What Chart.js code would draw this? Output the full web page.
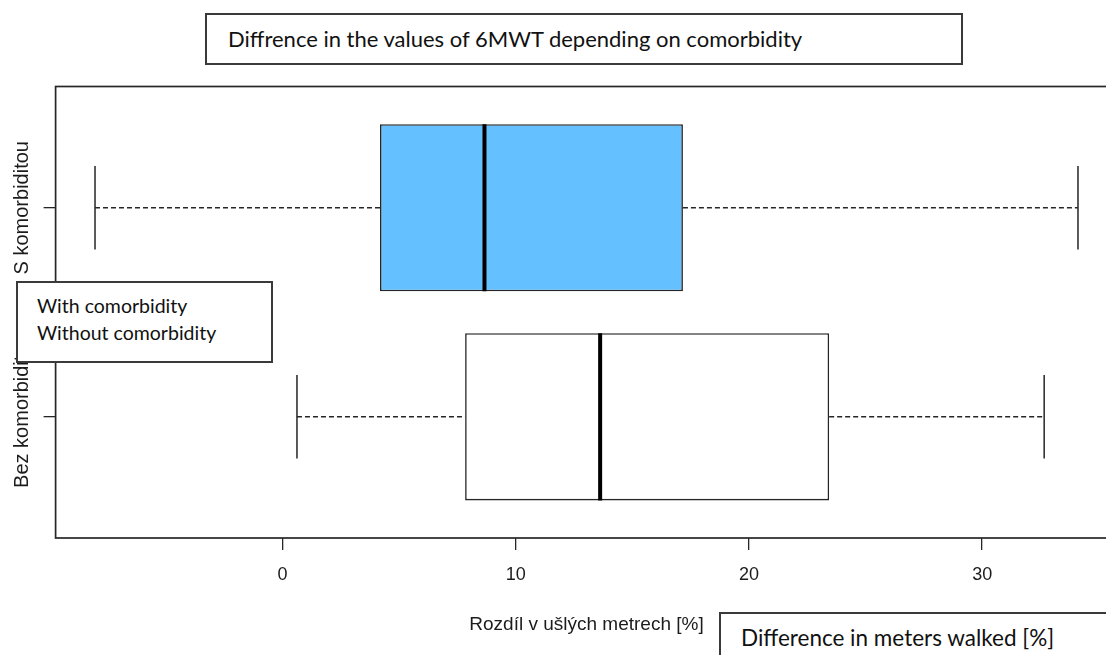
<!DOCTYPE html>
<html>
<head>
<meta charset="utf-8">
<script src="https://cdn.jsdelivr.net/npm/chart.js@4.4.1/dist/chart.umd.min.js"></script>
<style>
  html, body { margin: 0; padding: 0; background: #fff; overflow: hidden; }
  #wrap { position: absolute; left: 0; top: 0; width: 1130px; height: 655px; }
  .note {
    position: absolute; background: #fff; border: 2px solid #3a3a3a; box-sizing: border-box;
    font-family: Lato, "Open Sans", sans-serif; color: #111; white-space: nowrap;
  }
  #titleBox { left: 205px; top: 13px; width: 758px; height: 52px; font-size: 22px; line-height: 26px; padding: 11px 0 0 21px; }
  #legendBox { left: 16px; top: 281px; width: 257px; height: 82px; font-size: 19.5px; padding: 9px 0 0 19px; line-height: 27px; }
  #xnoteBox { left: 719px; top: 612px; width: 400px; height: 60px; font-size: 22.5px; line-height: 26px; padding: 11px 0 0 20px; }
</style>
</head>
<body>
<div id="wrap"><canvas id="c" width="1130" height="655"></canvas></div>
<div id="titleBox" class="note">Diffrence in the values of 6MWT depending on comorbidity</div>
<div id="legendBox" class="note">With comorbidity<br>Without comorbidity</div>
<div id="xnoteBox" class="note">Difference in meters walked [%]</div>
<script>
// Groups from bottom (position 1) to top (position 2)
const groups = ['Bez komorbidity', 'S komorbiditou'];
const positions = [1, 2];
const whiskerLow = [0.62, -8.04];
const q1 = [7.83, 4.18];
const median = [13.62, 8.66];
const q3 = [23.44, 17.17];
const whiskerHigh = [32.66, 34.11];
const boxColors = ['#ffffff', '#64c0fe'];
const xTicks = [0, 10, 20, 30];
const xTitle = 'Rozdíl v ušlých metrech [%]';

const BOX_HALF = 0.4;   // half box height in category units
const CAP_HALF = 0.2;   // half whisker cap height
const LINE = '#262626';

const boxData = positions.map((p, i) => ({ x: [q1[i], q3[i]], y: p }));

// Whiskers, medians and the frame around the plot region
const boxplotExtras = {
  id: 'boxplotExtras',
  afterDatasetsDraw(chart) {
    const { ctx, chartArea: a } = chart;
    const xs = chart.scales.x, ys = chart.scales.y;
    ctx.save();
    positions.forEach((p, i) => {
      const yc = ys.getPixelForValue(p);
      const capT = ys.getPixelForValue(p + CAP_HALF), capB = ys.getPixelForValue(p - CAP_HALF);
      const boxT = ys.getPixelForValue(p + BOX_HALF), boxB = ys.getPixelForValue(p - BOX_HALF);
      const xl = xs.getPixelForValue(whiskerLow[i]), xq1 = xs.getPixelForValue(q1[i]);
      const xq3 = xs.getPixelForValue(q3[i]), xh = xs.getPixelForValue(whiskerHigh[i]);
      // dashed whiskers
      ctx.strokeStyle = LINE; ctx.lineWidth = 1.5; ctx.setLineDash([5, 3]);
      ctx.beginPath();
      ctx.moveTo(xl, yc); ctx.lineTo(xq1, yc);
      ctx.moveTo(xq3, yc); ctx.lineTo(xh, yc);
      ctx.stroke();
      // caps
      ctx.setLineDash([]);
      ctx.beginPath();
      ctx.moveTo(xl, capT); ctx.lineTo(xl, capB);
      ctx.moveTo(xh, capT); ctx.lineTo(xh, capB);
      ctx.stroke();
      // median
      const xm = xs.getPixelForValue(median[i]);
      ctx.strokeStyle = '#000'; ctx.lineWidth = 4;
      ctx.beginPath(); ctx.moveTo(xm, boxT); ctx.lineTo(xm, boxB); ctx.stroke();
    });
    // frame
    ctx.strokeStyle = LINE; ctx.lineWidth = 1.7;
    ctx.strokeRect(a.left, a.top, a.right - a.left, a.bottom - a.top);
    ctx.restore();
  },
  afterDraw(chart) {
    // rotated group labels on the left axis
    const { ctx } = chart;
    const ys = chart.scales.y;
    ctx.save();
    ctx.fillStyle = '#1c1c1c';
    ctx.font = '20px "Liberation Sans", Arial, sans-serif';
    ctx.textAlign = 'center';
    ctx.textBaseline = 'alphabetic';
    positions.forEach((p, i) => {
      ctx.save();
      ctx.translate(28, ys.getPixelForValue(p));
      ctx.rotate(-Math.PI / 2);
      ctx.fillText(groups[i], 0, 0);
      ctx.restore();
    });
    ctx.restore();
  }
};

new Chart(document.getElementById('c'), {
  type: 'bar',
  data: {
    datasets: [{
      data: boxData,
      backgroundColor: boxColors,
      borderColor: LINE,
      borderWidth: 1.6,
      borderSkipped: false,
      categoryPercentage: 1,
      barPercentage: 0.8
    }]
  },
  options: {
    indexAxis: 'y',
    responsive: false,
    animation: false,
    layout: { padding: { top: 86.5, right: 12.6, left: 0, bottom: 0 } },
    plugins: { legend: { display: false }, tooltip: { enabled: false } },
    scales: {
      x: {
        type: 'linear',
        min: -9.73,
        max: 35.8,
        afterBuildTicks: s => { s.ticks = xTicks.map(v => ({ value: v })); },
        afterFit: s => { s.height = 117; },
        grid: { display: true, drawOnChartArea: false, drawTicks: true, tickLength: 12, color: LINE, lineWidth: 1.3 },
        border: { display: false },
        ticks: { padding: 14, color: '#1c1c1c', font: { family: '"Liberation Sans", Arial, sans-serif', size: 18 } },
        title: { display: true, text: xTitle, color: '#1c1c1c', padding: { top: 0, bottom: 19 },
                 font: { family: '"Liberation Sans", Arial, sans-serif', size: 19 } }
      },
      y: {
        type: 'linear',
        offset: false,
        min: 0.42,
        max: 2.58,
        afterBuildTicks: s => { s.ticks = positions.map(v => ({ value: v })); },
        afterFit: s => { s.width = 55.6; },
        grid: { display: true, offset: false, drawOnChartArea: false, drawTicks: true, tickLength: 12, color: LINE, lineWidth: 1.3 },
        border: { display: false },
        ticks: { display: false }
      }
    }
  },
  plugins: [boxplotExtras]
});
</script>
</body>
</html>
